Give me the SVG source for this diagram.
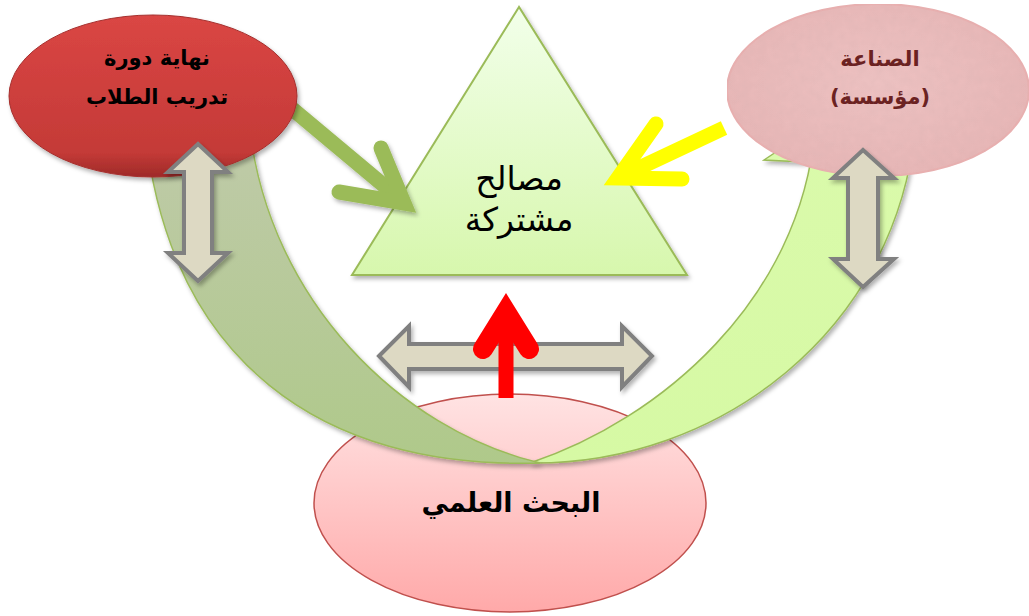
<svg xmlns="http://www.w3.org/2000/svg" width="1029" height="616" viewBox="0 0 1029 616">
  <defs>
    <linearGradient id="gTri" x1="0" y1="0" x2="0" y2="1">
      <stop offset="0" stop-color="#f2ffea"/>
      <stop offset="1" stop-color="#d7f7ad"/>
    </linearGradient>
    <linearGradient id="gBandL" x1="0" y1="0" x2="0" y2="1">
      <stop offset="0" stop-color="#bfcaa9"/>
      <stop offset="1" stop-color="#afc98a"/>
    </linearGradient>
    <linearGradient id="gBandR" x1="0" y1="0" x2="0" y2="1">
      <stop offset="0" stop-color="#dafaab"/>
      <stop offset="1" stop-color="#d6f9a4"/>
    </linearGradient>
    <linearGradient id="gRed" x1="0" y1="0" x2="0" y2="1">
      <stop offset="0" stop-color="#da4644"/>
      <stop offset="0.85" stop-color="#c43a37"/>
      <stop offset="1" stop-color="#9e2a28"/>
    </linearGradient>
    <radialGradient id="gPinkTop" cx="0.5" cy="0.45" r="0.6">
      <stop offset="0" stop-color="#efc3c3"/>
      <stop offset="1" stop-color="#e8b6b6"/>
    </radialGradient>
    <linearGradient id="gBottom" x1="0" y1="0" x2="0" y2="1">
      <stop offset="0" stop-color="#ffe3e3"/>
      <stop offset="1" stop-color="#ffa9a9"/>
    </linearGradient>
    <filter id="shadow" x="-10%" y="-10%" width="130%" height="130%">
      <feDropShadow dx="2" dy="3" stdDeviation="2" flood-color="#000" flood-opacity="0.3"/>
    </filter>
    <filter id="grain" x="0" y="0" width="100%" height="100%">
      <feTurbulence type="fractalNoise" baseFrequency="0.12" numOctaves="2" seed="3" result="n"/>
      <feColorMatrix in="n" type="matrix" values="0 0 0 0 0.6  0 0 0 0 0.4  0 0 0 0 0.4  0 0 0 0.25 0" result="tint"/>
      <feComposite in="tint" in2="SourceGraphic" operator="in" result="t"/>
      <feMerge><feMergeNode in="SourceGraphic"/><feMergeNode in="t"/></feMerge>
    </filter>
  </defs>
  <style>
    .lbl { font-family: "DejaVu Sans", "Noto Sans", sans-serif; text-anchor: middle; }
    .bold { font-weight: bold; }
    .dbl { fill: #ddd9c3; stroke: #808080; stroke-width: 4; stroke-linejoin: miter; }
    .open { fill: none; stroke-linecap: round; stroke-linejoin: miter; stroke-miterlimit: 10; }
  </style>

  <!-- research ellipse at the bottom -->
  <g id="node-research">
    <ellipse cx="510" cy="503" rx="196" ry="109" fill="url(#gBottom)" stroke="#c0504d" stroke-width="1.5"/>
  </g>

  <g id="connectors">
    <!-- sweeping bands linking the two upper partners through research -->
    <g id="band-right" filter="url(#shadow)">
      <path d="M915,130 C895,330 720,465 530,463 C660,420 800,300 815,130 Z" fill="url(#gBandR)" stroke="#9bbb59" stroke-width="1.5"/>
      <polygon points="764,160 800,136 804,162" fill="#dafaab" stroke="#9bbb59" stroke-width="1.5"/>
    </g>
    <g id="band-left" filter="url(#shadow)">
      <path d="M145,130 C170,360 320,470 540,463 C400,430 270,300 250,130 Z" fill="url(#gBandL)" stroke="#9bbb59" stroke-width="1.5"/>
    </g>
  </g>

  <!-- shared interests triangle -->
  <g id="node-shared">
    <polygon points="519,7 352,275 687,275" fill="url(#gTri)" stroke="#9bbb59" stroke-width="2" filter="url(#shadow)"/>
    <text class="lbl" x="519" y="190" font-size="33" fill="#000">مصالح</text>
    <text class="lbl" x="519" y="231" font-size="33" fill="#000">مشتركة</text>
  </g>

  <g id="connectors-arrows">
    <!-- green arrow from training to shared interests -->
    <g id="arrow-green" filter="url(#shadow)">
      <line x1="290" y1="107" x2="400" y2="199" stroke="#9bbb59" stroke-width="15"/>
      <polyline class="open" points="381,148 404,203 339,192" stroke="#9bbb59" stroke-width="15"/>
    </g>
    <!-- yellow arrow from industry to shared interests -->
    <g id="arrow-yellow">
      <line x1="724" y1="128" x2="622" y2="176" stroke="#ffff00" stroke-width="15"/>
      <polyline class="open" points="656,124 618,178 682,179" stroke="#ffff00" stroke-width="15"/>
    </g>
    <!-- horizontal two-way arrow -->
    <polygon class="dbl" filter="url(#shadow)" points="379,356 409,326 409,344 622,344 622,326 652,356 622,387 622,369 409,369 409,387"/>
    <!-- red arrow from research up to shared interests -->
    <g id="arrow-red">
      <line x1="506" y1="398" x2="506" y2="315" stroke="#ff0000" stroke-width="15"/>
      <polyline class="open" points="483,349 506,312 529,349" stroke="#ff0000" stroke-width="20"/>
    </g>
  </g>

  <!-- end of student training node -->
  <g id="node-training">
    <ellipse cx="153" cy="96" rx="144" ry="81" fill="url(#gRed)" stroke="#a52f2d" stroke-width="1" filter="url(#shadow)"/>
    <text class="lbl bold" x="157" y="65" font-size="21" fill="#000">نهاية دورة</text>
    <text class="lbl bold" x="157" y="104" font-size="21" fill="#000">تدريب الطلاب</text>
  </g>

  <!-- industry node -->
  <g id="node-industry">
    <ellipse cx="878" cy="90" rx="151" ry="86" fill="url(#gPinkTop)" stroke="#ebb0b0" stroke-width="2" filter="url(#grain)"/>
    <text class="lbl bold" x="880" y="66" font-size="21" fill="#6b2222">الصناعة</text>
    <text class="lbl bold" x="880" y="104" font-size="21" fill="#6b2222">(مؤسسة)</text>
  </g>

  <g id="connectors-vertical">
    <polygon class="dbl" filter="url(#shadow)" points="198,144 228,172 212,172 212,253 228,253 198,281 168,253 184,253 184,172 168,172"/>
    <polygon class="dbl" filter="url(#shadow)" points="863,150 894,178 878,178 878,259 894,259 863,287 833,259 848,259 848,178 833,178"/>
  </g>

  <!-- research label -->
  <text class="lbl bold" x="511" y="512" font-size="27" fill="#000">البحث العلمي</text>
</svg>
